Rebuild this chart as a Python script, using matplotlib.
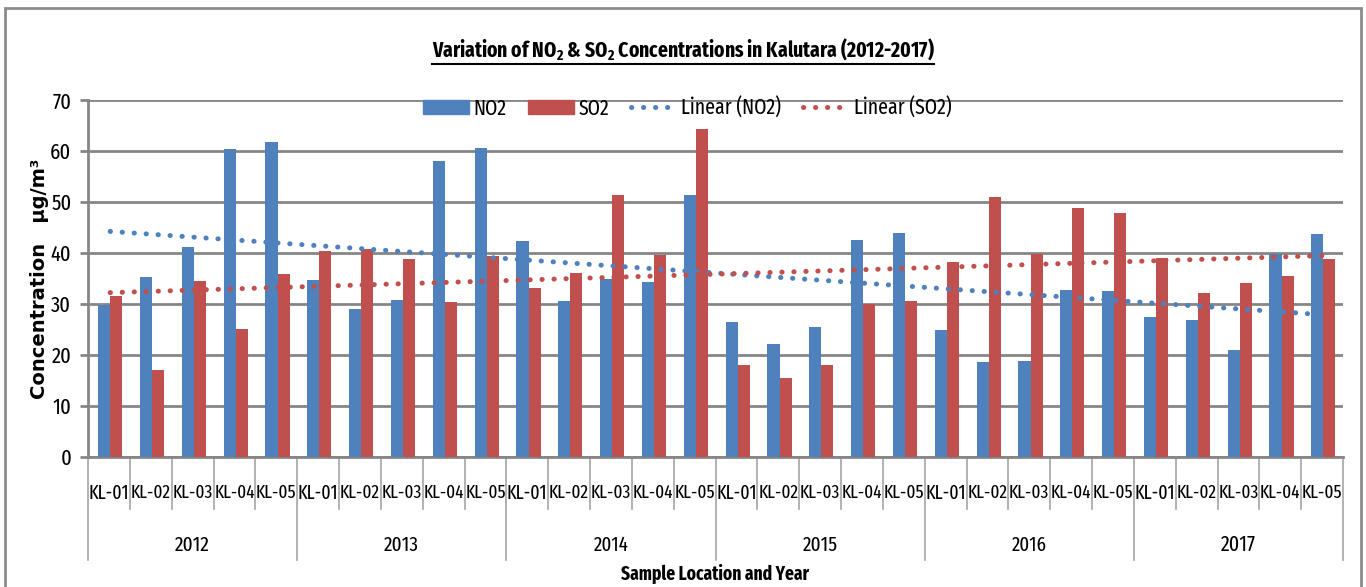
import matplotlib
matplotlib.use("Agg")
import matplotlib.pyplot as plt
import numpy as np
from matplotlib.patches import Rectangle, Patch
from matplotlib.lines import Line2D

years = ["2012", "2013", "2014", "2015", "2016", "2017"]
locations = ["KL-01", "KL-02", "KL-03", "KL-04", "KL-05"]

no2 = [29.8, 35.3, 41.1, 60.3, 61.8,
       34.7, 29.0, 30.7, 58.0, 60.6,
       42.3, 30.5, 34.9, 34.3, 51.4,
       26.4, 22.1, 25.4, 42.6, 43.9,
       25.0, 18.6, 18.9, 32.8, 32.6,
       27.5, 26.8, 21.0, 39.9, 43.7]
so2 = [31.5, 17.1, 34.5, 25.1, 35.8,
       40.3, 40.8, 38.8, 30.4, 39.4,
       33.2, 36.0, 51.4, 39.7, 64.3,
       18.1, 15.5, 18.1, 30.0, 30.5,
       38.2, 51.0, 39.9, 48.8, 47.8,
       39.0, 32.1, 34.2, 35.4, 38.8]

BLUE = "#4F81BD"
RED = "#C0504D"
GRID = "#868686"
SEP = "#a6a6a6"
NARROW = ["Fira Sans Extra Condensed", "Roboto Condensed", "DejaVu Sans"]

plt.rcParams["mathtext.fontset"] = "custom"
plt.rcParams["mathtext.bf"] = "Fira Sans Extra Condensed:bold"
plt.rcParams["mathtext.rm"] = "Fira Sans Extra Condensed"

W, H = 1366, 587
fig = plt.figure(figsize=(W / 100, H / 100), dpi=100)
ax = fig.add_axes([88 / W, 1 - 457 / H, (1343 - 88) / W, (457 - 100) / H])
renderer = fig.canvas.get_renderer()


def fit_width(txt, target):
    # shrink/grow a text until it spans the wanted number of pixels
    for _ in range(3):
        w = txt.get_window_extent(renderer).width
        txt.set_fontsize(txt.get_fontsize() * target / w)


n = len(no2)
x = np.arange(n)
bw = 0.29
ax.bar(x - bw / 2 + 0.03, no2, bw, color=BLUE, zorder=3)
ax.bar(x + bw / 2 + 0.03, so2, bw, color=RED, zorder=3)

# linear trend lines, same as a spreadsheet "Linear" trendline
dots = dict(lw=3.6, linestyle=(0, (0.05, 2.35)), dash_capstyle="round", zorder=4)
xf = x + 1
for vals, col in ((no2, BLUE), (so2, RED)):
    k, b = np.polyfit(xf, vals, 1)
    ax.plot(x + 0.03, k * xf + b, color=col, **dots)

ax.set_xlim(-0.5, n - 0.5)
ax.set_ylim(0, 70)
ax.set_yticks(range(0, 71, 10))
ax.yaxis.grid(True, color=GRID, lw=2, zorder=0)
ax.tick_params(axis="y", length=6, width=2, color=GRID, labelsize=16, pad=6)
for lab in ax.get_yticklabels():
    lab.set_family(NARROW)
ax.set_xticks([])
for s in ("top", "right"):
    ax.spines[s].set_visible(False)
ax.spines["left"].set_color(GRID)
ax.spines["left"].set_lw(2)
ax.spines["bottom"].set_color(GRID)
ax.spines["bottom"].set_lw(2)

# two-level category axis
tr = ax.get_xaxis_transform()
ah = 457 - 100
for i in range(n + 1):
    depth = 103 if i % 5 == 0 else 52
    ax.plot([i - 0.5, i - 0.5], [0, -depth / ah], color=SEP, lw=1.2,
            transform=tr, clip_on=False)
for i in range(n):
    t = ax.text(i, -(493 - 457) / ah, locations[i % 5], transform=tr,
                ha="center", va="center", fontsize=15, family=NARROW)
    fit_width(t, 40.5)
for j, yr in enumerate(years):
    t = ax.text(j * 5 + 2, -(545 - 457) / ah, yr, transform=tr,
                ha="center", va="center", fontsize=15, family=NARROW)
    fit_width(t, 35)

xl = fig.text(715 / W, 1 - 574 / H, "Sample Location and Year", ha="center",
              va="center", fontsize=15, fontweight="bold", family=NARROW)
fit_width(xl, 188)
fig.text(40 / W, 1 - 279 / H, "Concentration   \u00b5g/m\u00b3", rotation=90,
         ha="center", va="center", fontsize=14, fontweight="bold",
         family="DejaVu Sans")

title = fig.text(683 / W, 1 - 50 / H,
                 r"Variation of NO$_\mathbf{2}$ & SO$_\mathbf{2}$ Concentrations in Kalutara (2012-2017)",
                 ha="center", va="center", fontsize=16, fontweight="bold",
                 family=NARROW)
fit_width(title, 503)
bb = title.get_window_extent(renderer)
fig.add_artist(Line2D([bb.x0 / W, bb.x1 / W], [1 - 64 / H, 1 - 64 / H],
                      color="black", lw=1.5, transform=fig.transFigure))

handles = [Patch(color=BLUE), Patch(color=RED),
           Line2D([], [], color=BLUE, **dots),
           Line2D([], [], color=RED, **dots)]
fig.legend(handles, ["NO2", "SO2", "Linear (NO2)", "Linear (SO2)"],
           loc="center", bbox_to_anchor=(687 / W, 1 - 108 / H), ncol=4,
           frameon=False, prop={"family": NARROW, "size": 15.5},
           handlelength=2.15, handleheight=0.65, handletextpad=0.2,
           columnspacing=1.0)

fig.add_artist(Rectangle((5 / W, -0.01), 1356 / W, (587 - 8) / H + 0.01,
                         transform=fig.transFigure, fill=False,
                         ec="#8c8c8c", lw=2))

fig.savefig("out.png", dpi=100)
